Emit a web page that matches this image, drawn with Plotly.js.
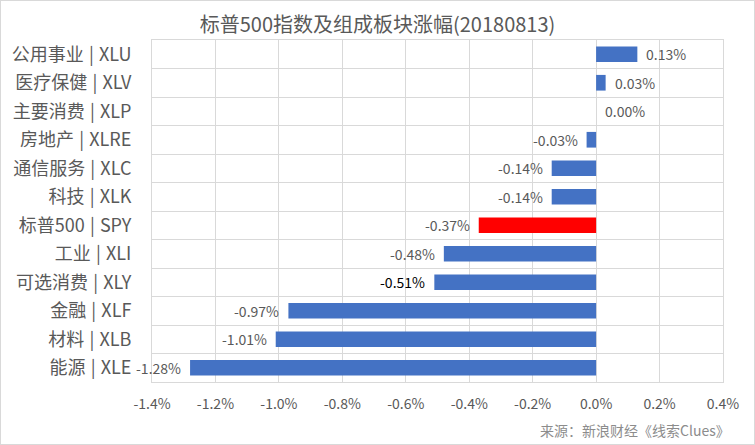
<!DOCTYPE html>
<html>
<head>
<meta charset="utf-8">
<script src="https://cdn.plot.ly/plotly-3.0.1.min.js"></script>
<style>
  html, body { margin: 0; padding: 0; background: #fff; }
  #chart { width: 755px; height: 445px; box-sizing: border-box; border: 1px solid #d9d9d9; }
</style>
</head>
<body>
<div id="chart"></div>
<script>
// ---- data ----
const categories = [
  '公用事业 | XLU', '医疗保健 | XLV', '主要消费 | XLP', '房地产 | XLRE',
  '通信服务 | XLC', '科技 | XLK', '标普500 | SPY', '工业 | XLI',
  '可选消费 | XLY', '金融 | XLF', '材料 | XLB', '能源 | XLE'
];
const changes = [0.13, 0.03, 0.00, -0.03, -0.14, -0.14, -0.37, -0.48, -0.51, -0.97, -1.01, -1.28];
const xTickVals = [-1.4, -1.2, -1.0, -0.8, -0.6, -0.4, -0.2, 0.0, 0.2, 0.4];
const xTickText = ['-1.4%', '-1.2%', '-1.0%', '-0.8%', '-0.6%', '-0.4%', '-0.2%', '0.0%', '0.2%', '0.4%'];
const titleText = '标普500指数及组成板块涨幅(20180813)';
const sourceText = '来源：新浪财经《线索Clues》';
const highlightCategory = '标普500 | SPY';
const darkLabelCategory = '可选消费 | XLY';

// ---- styles ----
const FONT = '"Noto Sans CJK SC", "Noto Sans", sans-serif';
const GRAY = '#595959';
const GRID = '#d9d9d9';

const barColors = categories.map(c => c === highlightCategory ? '#FF0000' : '#4472C4');
// slightly wider separator spacing like the reference
const yLabels = categories.map(c => c.replace(' | ', ' \u200a|\u200a '));

const trace = {
  type: 'bar',
  orientation: 'h',
  x: changes,
  y: categories,
  width: 0.55,
  marker: { color: barColors, line: { width: 0 } },
  hoverinfo: 'skip'
};

const annotations = changes.map((v, i) => ({
  x: v,
  y: categories[i],
  xref: 'x', yref: 'y',
  text: v.toFixed(2) + '%',
  showarrow: false,
  xanchor: v >= 0 ? 'left' : 'right',
  yanchor: 'middle',
  xshift: v >= 0 ? 7 : -7,
  font: { family: FONT, size: 14, color: categories[i] === darkLabelCategory ? '#000000' : GRAY }
}));

annotations.push({
  xref: 'paper', yref: 'paper',
  x: 1.016, y: -0.14,
  xanchor: 'right', yanchor: 'middle',
  text: sourceText,
  showarrow: false,
  font: { family: FONT, size: 14, color: '#8c8c8c' }
});

const layout = {
  width: 753,
  height: 443,
  margin: { l: 151, r: 31, t: 39, b: 62 },
  paper_bgcolor: '#ffffff',
  plot_bgcolor: '#ffffff',
  showlegend: false,
  title: {
    text: titleText,
    font: { family: FONT, size: 20, color: GRAY },
    x: 0.5, xanchor: 'center',
    y: 0.945, yref: 'container', yanchor: 'middle'
  },
  xaxis: {
    range: [-1.4, 0.4],
    tickmode: 'array',
    tickvals: xTickVals,
    ticktext: xTickText,
    showgrid: true,
    gridcolor: GRID,
    gridwidth: 1,
    zeroline: true,
    zerolinecolor: GRID,
    zerolinewidth: 1,
    showline: true,
    linecolor: GRID,
    mirror: true,
    ticks: '',
    ticklabelstandoff: 9,
    tickfont: { family: FONT, size: 14, color: GRAY },
    fixedrange: true
  },
  yaxis: {
    type: 'category',
    categoryorder: 'array',
    categoryarray: categories,
    tickmode: 'array',
    tickvals: categories,
    ticktext: yLabels,
    autorange: 'reversed',
    tickson: 'boundaries',
    showgrid: true,
    gridcolor: GRID,
    gridwidth: 1,
    showline: true,
    linecolor: GRID,
    mirror: true,
    ticks: '',
    ticklabelstandoff: 16,
    tickfont: { family: FONT, size: 18, color: GRAY },
    fixedrange: true
  },
  annotations: annotations
};

Plotly.newPlot('chart', [trace], layout, { staticPlot: true, displayModeBar: false });
</script>
</body>
</html>
